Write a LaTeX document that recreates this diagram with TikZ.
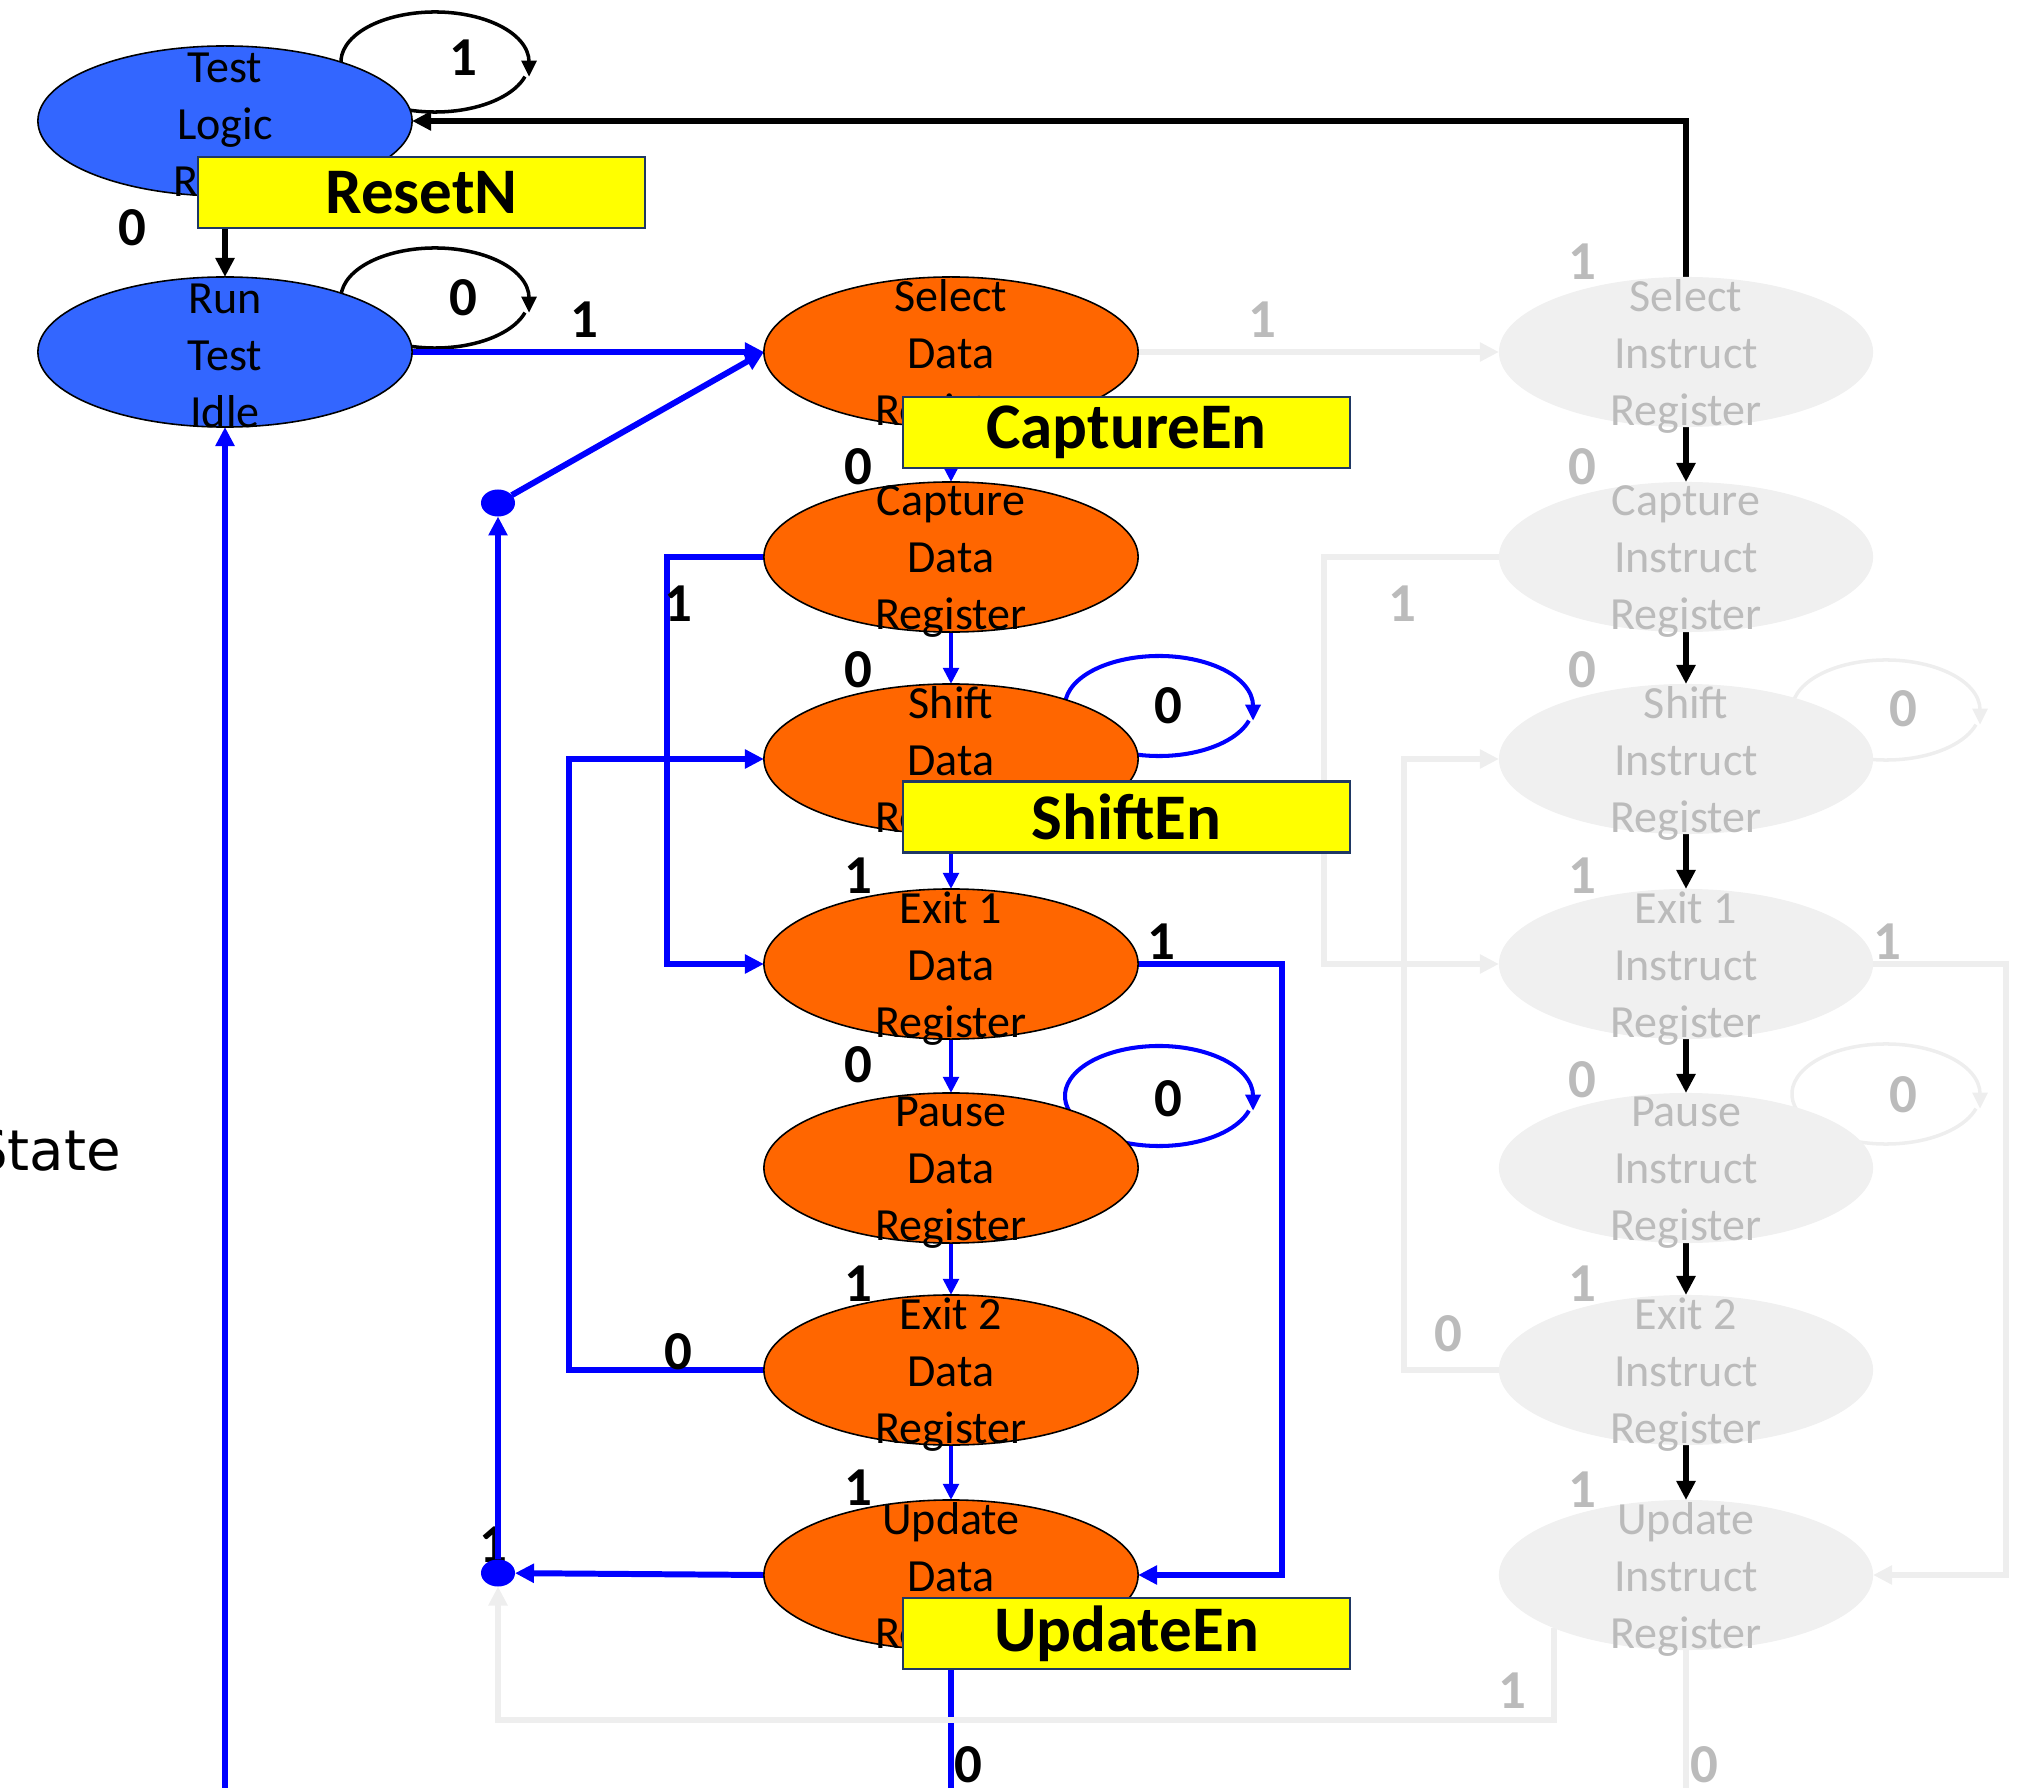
\documentclass[tikz,border=0pt]{standalone}
\usepackage{fontspec}
\setmainfont{Carlito}
\newfontfamily\statefont{DejaVu Sans}
\usetikzlibrary{shapes.geometric,arrows.meta,calc}
\pgfdeclarelayer{back}
\pgfdeclarelayer{front}
\pgfsetlayers{back,main,front}

\definecolor{tlblue}{HTML}{3366FF}
\definecolor{drorange}{HTML}{FF6600}
\definecolor{pathblue}{HTML}{0000FF}
\definecolor{irfill}{HTML}{F0F0F0}
\definecolor{irline}{HTML}{EEEEEE}
\definecolor{irtext}{HTML}{BBBBBB}
\definecolor{sigyellow}{HTML}{FFFF00}
\definecolor{signavy}{HTML}{1F3864}

\tikzset{
  every node/.style={inner sep=0pt, outer sep=0pt},
  stbase/.style={ellipse, minimum width=3.74cm, minimum height=1.5cm},
  tlstate/.style={stbase, draw=black, line width=0.45pt, fill=tlblue},
  drstate/.style={stbase, draw=black, line width=0.45pt, fill=drorange},
  irstate/.style={stbase, fill=irfill},
  sttext/.style={align=center, font=\fontsize{13.1}{16.2}\selectfont, text=black, yshift=-1.2pt},
  irtxt/.style={sttext, text=irtext},
  bit/.style={font=\bfseries\fontsize{15.6}{18}\selectfont, text=black},
  graybit/.style={bit, text=irtext},
  sigbox/.style={draw=signavy, line width=0.6pt, fill=sigyellow,
    minimum width=4.47cm, minimum height=0.71cm,
    font=\bfseries\fontsize{18.5}{22}\selectfont},
  bdot/.style={ellipse, fill=pathblue, minimum width=0.34cm, minimum height=0.27cm},
  arrowend/.style={-{Triangle[length=5.4pt,width=5.2pt]}},
  route/.style={pathblue, line width=1.7pt, line join=miter, arrowend},
  vstep/.style={pathblue, line width=1.15pt, -{Triangle[length=4.6pt,width=4.4pt]}},
  blk/.style={black, line width=1.6pt, line join=miter, arrowend},
  ghost/.style={irline, line width=1.6pt, line join=miter, arrowend},
  loopend/.style={-{Triangle[length=4.6pt,width=4.2pt]}},
  blkloop/.style={black, line width=1pt},
  bluloop/.style={pathblue, line width=1.15pt},
  ghostloop/.style={irline, line width=1pt},
}

% self loop: elliptic arc around a centre, short drop with the arrow on its right side
\newcommand\drawloop[2]{%
  \draw[#2,loopend] ($(#1)+(200:0.94cm and 0.5cm)$)
    arc[start angle=200,end angle=0,x radius=0.94cm,y radius=0.5cm]
    -- ++(0pt,-4.2pt);
  \draw[#2] ($(#1)+(-17:0.94cm and 0.5cm)$)
    arc[start angle=-17,end angle=-130,x radius=0.94cm,y radius=0.5cm];}

\begin{document}
\begin{tikzpicture}[x=0.01cm,y=-0.01cm]
\useasboundingbox (0,0) rectangle (2032,1788);
\clip (0,0) rectangle (2032,1788);

% ---- test logic states
\node[tlstate, label={[sttext]center:Test\\Logic\\Reset}] (tlr) at (225,121) {};
\node[tlstate, label={[sttext]center:Run\\Test\\Idle}] (rti) at (225,352) {};

% ---- data register column
\node[drstate, label={[sttext]center:Select\\Data\\Register}] (sdr) at (951,352) {};
\node[drstate, label={[sttext]center:Capture\\Data\\Register}] (cdr) at (951,557) {};
\node[drstate, label={[sttext]center:Shift\\Data\\Register}] (shdr) at (951,759) {};
\node[drstate, label={[sttext]center:Exit 1\\Data\\Register}] (e1dr) at (951,964) {};
\node[drstate, label={[sttext]center:Pause\\Data\\Register}] (pdr) at (951,1168) {};
\node[drstate, label={[sttext]center:Exit 2\\Data\\Register}] (e2dr) at (951,1370) {};
\node[drstate, label={[sttext]center:Update\\Data\\Register}] (udr) at (951,1575) {};

% ---- instruction register column
\node[irstate, label={[irtxt]center:Select\\Instruct\\Register}] (sir) at (1686,352) {};
\node[irstate, label={[irtxt]center:Capture\\Instruct\\Register}] (cir) at (1686,557) {};
\node[irstate, label={[irtxt]center:Shift\\Instruct\\Register}] (shir) at (1686,759) {};
\node[irstate, label={[irtxt]center:Exit 1\\Instruct\\Register}] (e1ir) at (1686,964) {};
\node[irstate, label={[irtxt]center:Pause\\Instruct\\Register}] (pir) at (1686,1168) {};
\node[irstate, label={[irtxt]center:Exit 2\\Instruct\\Register}] (e2ir) at (1686,1370) {};
\node[irstate, label={[irtxt]center:Update\\Instruct\\Register}] (uir) at (1686,1575) {};

% ---- junction dots
\node[bdot] (dtop) at (498,503) {};
\node[bdot] (dbot) at (498,1573) {};

% ---- free ends and turning points
\coordinate (gturn) at (498,1720);
\coordinate (gexit) at (1686,1788);
\coordinate (bexit) at (951,1788);
\coordinate (rentry) at (225,1788);

% ---- loop centres
\coordinate (lp-tlr) at ($(tlr)+(210,-59)$);
\coordinate (lp-rti) at ($(rti)+(210,-54)$);
\coordinate (lp-shdr) at ($(shdr)+(208,-53)$);
\coordinate (lp-pdr) at ($(pdr)+(208,-72)$);
\coordinate (lp-shir) at ($(shir)+(200,-49)$);
\coordinate (lp-pir) at ($(pir)+(200,-74)$);

\begin{pgfonlayer}{back}
  \node[bit] (b-ret) at (493,1545) {1};
  % self loops
  \drawloop{lp-tlr}{blkloop}
  \drawloop{lp-rti}{blkloop}
  \drawloop{lp-shdr}{bluloop}
  \drawloop{lp-pdr}{bluloop}
  \drawloop{lp-shir}{ghostloop}
  \drawloop{lp-pir}{ghostloop}
  % black transitions
  \draw[blk] (sir.north) |- (tlr.east);
  \draw[blk] (tlr.south) -- (rti.north);
  \foreach \a/\b in {sir/cir, cir/shir, shir/e1ir, e1ir/pir, pir/e2ir, e2ir/uir}
    \draw[blk] (\a.south) -- (\b.north);
  % blue data-register path
  \draw[route] (rti.east) -- (sdr.west);
  \draw[route] (dtop) -- (sdr.west);
  \draw[route] (dbot) -- (dtop);
  \draw[route] (udr.west) -- (dbot);
  \draw[route] (cdr.west) -- ++(-97,0) |- (e1dr.west);
  \draw[route] (e2dr.west) -- ++(-195,0) |- (shdr.west);
  \draw[route] (e1dr.east) -- ++(144,0) |- (udr.east);
  \draw[route,-] (udr.south) -- (bexit);
  \draw[route] (rentry) -- (rti.south);
  \foreach \a/\b in {sdr/cdr, cdr/shdr, shdr/e1dr, e1dr/pdr, pdr/e2dr, e2dr/udr}
    \draw[vstep] (\a.south) -- (\b.north);
  % faded instruction-register path
  \draw[ghost] (sdr.east) -- (sir.west);
  \draw[ghost] (cir.west) -- ++(-175,0) |- (e1ir.west);
  \draw[ghost] (e2ir.west) -- ++(-95,0) |- (shir.west);
  \draw[ghost] (e1ir.east) -- ++(133,0) |- (uir.east);
  \draw[ghost] (uir.202) |- (gturn) -- (dbot.south);
  \draw[ghost,-] (uir.south) -- (gexit);
\end{pgfonlayer}

\begin{pgfonlayer}{front}
  % transition bits
  \node[bit] (b1) at (132,228) {0};
  \node[bit] (b2) at (584,320) {1};
  \node[bit] (b3) at (463,58) {1};
  \node[bit] (b4) at (463,298) {0};
  \node[bit] (b5) at (858,467) {0};
  \node[bit] (b6) at (858,670) {0};
  \node[bit] (b7) at (858,876) {1};
  \node[bit] (b8) at (858,1065) {0};
  \node[bit] (b9) at (858,1284) {1};
  \node[bit] (b10) at (858,1488) {1};
  \node[bit] (b11) at (678,604) {1};
  \node[bit] (b12) at (678,1352) {0};
  \node[bit] (b13) at (1161,942) {1};
  \node[bit] (b14) at (968,1765) {0};
  \node[bit] (b15) at (1168,706) {0};
  \node[bit] (b16) at (1168,1099) {0};
  % faded bits
  \node[graybit] (g1) at (1262,320) {1};
  \node[graybit] (g2) at (1582,262) {1};
  \node[graybit] (g3) at (1582,467) {0};
  \node[graybit] (g4) at (1582,670) {0};
  \node[graybit] (g5) at (1582,876) {1};
  \node[graybit] (g6) at (1582,1080) {0};
  \node[graybit] (g7) at (1582,1284) {1};
  \node[graybit] (g8) at (1582,1490) {1};
  \node[graybit] (g9) at (1402,604) {1};
  \node[graybit] (g10) at (1448,1334) {0};
  \node[graybit] (g11) at (1887,942) {1};
  \node[graybit] (g12) at (1512,1691) {1};
  \node[graybit] (g13) at (1704,1765) {0};
  \node[graybit] (g14) at (1903,709) {0};
  \node[graybit] (g15) at (1903,1095) {0};
  % control signals
  \node[sigbox] (resetn) at (421.5,192.5) {ResetN};
  \node[sigbox] (captureen) at (1126.5,432.5) {CaptureEn};
  \node[sigbox] (shiften) at (1126.5,817) {ShiftEn};
  \node[sigbox] (updateen) at (1126.5,1633.5) {UpdateEn};
  % side caption
  \node[anchor=base east, font=\statefont\fontsize{16}{19}\selectfont] (statecap) at (121,1170) {State};
\end{pgfonlayer}
\end{tikzpicture}
\end{document}
